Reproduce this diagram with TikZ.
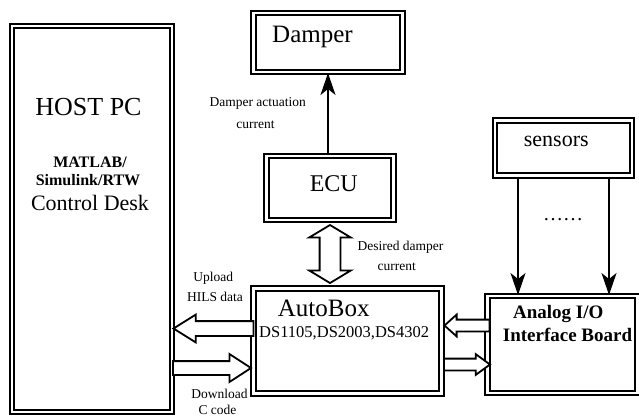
\documentclass[tikz,border=0pt]{standalone}
\usepackage{fontspec}
\setmainfont{Liberation Serif}
\usetikzlibrary{shapes.arrows}
\usetikzlibrary{arrows.meta}
\newcommand{\fsz}[1]{\fontsize{#1}{#1}\selectfont}

\begin{document}
\begin{tikzpicture}[x=1pt, y=-1pt]
            \tikzstyle{double box} = [draw, rectangle, line width=2pt, double=white, double distance=2.5pt, inner sep=0pt]
            \tikzstyle{fat arrow} = [single arrow, draw, fill=white, line width=1.8pt, single arrow head indent=0pt, anchor=tip, outer sep=0pt]
            \tikzstyle{signal} = [line width=1.6pt, -{Stealth[length=22pt, width=15pt, inset=6pt]}]
            \tikzstyle{small note} = [anchor=base, font=\fsz{13.5}]
            
            \useasboundingbox (0, 0) rectangle (639, 416);
            
            \node[double box, minimum width=160pt, minimum height=386pt] (host) at (92, 219) {};
            \node[double box, minimum width=149pt, minimum height=59pt] (damper) at (328, 42.5) {};
            \node[double box, minimum width=127pt, minimum height=64pt] (ecu) at (330, 188) {};
            \node[double box, minimum width=188pt, minimum height=105pt] (autobox) at (347.5, 341) {};
            \node[double box, minimum width=150pt, minimum height=97pt] (analog) at (562.5, 344.5) {};
            \node[double box, minimum width=137pt, minimum height=55pt] (sensors) at (563.5, 148) {};
            
            \node[anchor=base, font=\fsz{26}] (host title) at (88.5, 115) {HOST PC};
            \node[anchor=base, font=\bfseries\fsz{16}] (matlab) at (90, 167) {MATLAB/};
            \node[anchor=base, font=\bfseries\fsz{16}] (simulink) at (88, 185) {Simulink/RTW};
            \node[anchor=base, font=\fsz{22}] (desk) at (90, 210) {Control Desk};
            \node[anchor=base, font=\fsz{25}] (damper text) at (312.5, 42.3) {Damper};
            \node[anchor=base, font=\fsz{24}] (ecu text) at (333.8, 191) {ECU};
            \node[anchor=base, font=\fsz{25}] (autobox text) at (323.7, 316.7) {AutoBox};
            \node[anchor=base, font=\fsz{16.5}] (ds text) at (344.2, 337.3) {DS1105,DS2003,DS4302};
            \node[anchor=base, font=\bfseries\fsz{19}] (analog text) at (558.3, 318.3) {Analog I/O};
            \node[anchor=base, font=\bfseries\fsz{19}] (board text) at (567.5, 341.7) {Interface Board};
            \node[anchor=base, font=\fsz{22}] (sensors text) at (556.3, 146.7) {sensors};
            \node[anchor=base, font=\fsz{20}] (more sensors) at (563, 220) {……};
            
            \node[small note] (actuation) at (257.8, 106.7) {Damper actuation};
            \node[small note] (actuation2) at (255.5, 128.3) {current};
            \node[small note] (desired) at (400.5, 250) {Desired damper};
            \node[small note] (desired2) at (396.7, 270.7) {current};
            \node[small note] (upload text) at (213.3, 281) {Upload};
            \node[small note] (upload text2) at (215, 301) {HILS data};
            \node[small note] (download text) at (219.5, 398.7) {Download};
            \node[small note] (download text2) at (217.5, 414.5) {C code};
            
            \node[fat arrow, inner sep=6.5pt, shape border rotate=180, minimum height=80pt, single arrow head extend=6.5pt, single arrow tip angle=64] (upload) at (173.5, 328.5) {};
            \node[fat arrow, inner sep=6pt, minimum height=78pt, single arrow head extend=7pt, single arrow tip angle=66] (download) at (251, 368) {};
            \node[fat arrow, inner sep=5pt, shape border rotate=180, minimum height=45pt, single arrow head extend=5pt, single arrow tip angle=84] (analog in) at (444.5, 325.5) {};
            \node[fat arrow, inner sep=5pt, minimum height=46pt, single arrow head extend=4.5pt, single arrow tip angle=72] (analog out) at (490, 364.5) {};
            \node[double arrow, draw, fill=white, line width=1.8pt, inner sep=9.5pt, double arrow head indent=0pt, shape border rotate=90, minimum height=58pt, double arrow head extend=10.5pt, double arrow tip angle=118] (desired link) at (330, 254) {};
            
            \coordinate (left probe) at (518, 0);
            \coordinate (right probe) at (609, 0);
            \draw[signal] (damper.south |- ecu.north) -- (damper.south);
            \draw[signal] (left probe |- sensors.south) -- (left probe |- analog.north);
            \draw[signal] (right probe |- sensors.south) -- (right probe |- analog.north);
        \end{tikzpicture}
\end{document}
